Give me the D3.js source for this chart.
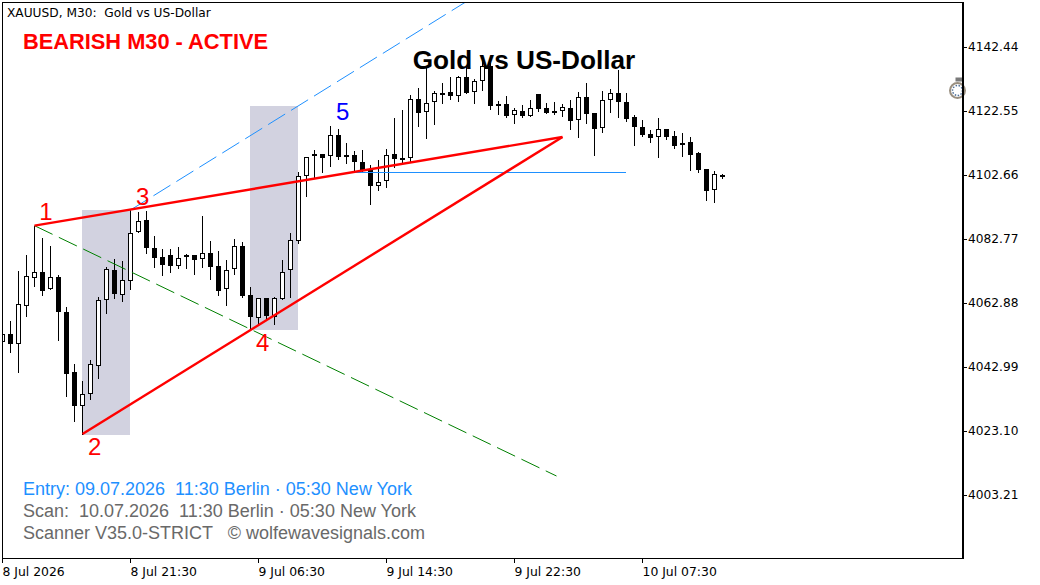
<!DOCTYPE html>
<html><head><meta charset="utf-8">
<script src="https://cdn.jsdelivr.net/npm/d3@7"></script>
<style>html,body{margin:0;padding:0;background:#fff;overflow:hidden}svg{display:block}</style>
</head><body><div id="c"></div>
<script>
const opens=[4050.86,4053.14,4050.24,4062.05,4070.75,4072.41,4067.34,4070.86,4059.98,4041.33,4031.02,4034.50,4043.40,4063.92,4073.13,4065.47,4069.82,4084.84,4088.57,4079.87,4077.07,4077.69,4074.48,4077.07,4077.69,4076.45,4078.32,4074.28,4067.13,4073.34,4080.49,4065.26,4058.32,4064.33,4058.63,4064.22,4073.03,4082.25,4102.45,4108.46,4109.08,4108.46,4114.98,4108.77,4108.77,4106.59,4104.11,4099.15,4100.69,4109.08,4107.53,4107.84,4126.18,4122.14,4125.25,4127.94,4128.36,4127.11,4133.02,4128.36,4131.98,4136.44,4124.73,4124.63,4121.21,4122.45,4121.10,4127.73,4123.38,4122.45,4122.45,4123.38,4119.65,4126.80,4121.83,4117.17,4125.87,4128.05,4125.25,4120.59,4117.48,4115.30,4114.37,4116.86,4114.68,4111.89,4112.82,4109.40,4104.43,4097.90,4102.56];
const highs=[4053.50,4057.29,4072.83,4077.80,4086.91,4083.08,4080.59,4071.58,4061.64,4043.92,4038.64,4045.17,4064.74,4073.96,4076.45,4075.93,4091.78,4091.06,4091.47,4083.60,4079.56,4079.56,4080.18,4078.00,4077.69,4089.92,4082.05,4078.94,4076.14,4082.67,4081.73,4067.75,4064.33,4064.33,4064.64,4076.14,4084.53,4103.49,4108.15,4110.32,4109.08,4117.88,4116.85,4112.50,4110.12,4110.32,4105.66,4107.21,4110.63,4120.37,4122.86,4127.42,4129.60,4135.81,4128.67,4131.15,4133.02,4133.33,4136.13,4132.40,4138.40,4137.37,4125.66,4127.22,4123.38,4124.32,4125.87,4127.73,4124.94,4125.46,4124.63,4125.87,4128.36,4131.15,4121.83,4128.87,4129.29,4135.30,4128.05,4121.21,4119.65,4116.75,4120.28,4116.86,4116.24,4115.61,4114.58,4109.71,4104.43,4103.80,4102.87];
const lows=[4050.50,4047.76,4041.54,4058.94,4068.27,4065.37,4067.34,4051.38,4034.08,4026.31,4022.17,4033.05,4039.68,4059.88,4064.54,4063.61,4067.34,4084.84,4078.52,4074.17,4071.69,4072.62,4073.86,4073.86,4072.00,4074.17,4070.44,4065.47,4062.36,4072.00,4064.64,4054.70,4056.04,4057.60,4056.35,4064.22,4064.85,4081.63,4096.23,4101.62,4103.69,4105.45,4107.73,4106.28,4103.69,4104.00,4093.75,4098.10,4099.03,4105.25,4106.80,4106.81,4117.89,4114.27,4118.41,4125.14,4126.39,4125.77,4128.25,4125.14,4129.08,4123.28,4121.73,4120.69,4118.83,4120.69,4120.90,4122.66,4121.83,4121.73,4121.00,4117.06,4114.58,4118.93,4108.98,4116.13,4122.35,4120.79,4119.55,4112.09,4114.89,4113.00,4108.36,4113.96,4111.16,4108.67,4104.32,4103.70,4095.00,4094.38,4101.73];
const closes=[4053.14,4050.24,4062.47,4071.17,4072.41,4066.61,4070.86,4060.19,4040.92,4031.02,4034.50,4043.82,4063.71,4073.34,4065.78,4069.92,4084.53,4088.26,4080.08,4076.97,4074.79,4074.48,4076.76,4077.69,4076.35,4078.32,4074.17,4066.71,4073.03,4080.49,4064.95,4058.43,4064.33,4058.94,4064.33,4072.41,4082.35,4102.45,4108.15,4109.08,4108.04,4114.98,4108.25,4108.36,4106.59,4104.11,4099.15,4100.59,4108.77,4107.73,4107.84,4126.18,4122.04,4124.94,4128.05,4128.15,4127.32,4133.02,4128.25,4131.77,4136.44,4124.21,4124.42,4121.00,4122.76,4121.10,4123.38,4123.28,4122.04,4122.14,4123.69,4119.55,4126.80,4121.73,4117.06,4125.87,4128.05,4125.46,4120.17,4117.48,4115.10,4114.27,4116.86,4114.58,4111.78,4112.51,4108.98,4104.32,4097.80,4102.87,4101.94];

const priceTicks=[4142.44,4122.55,4102.66,4082.77,4062.88,4042.99,4023.10,4003.21];
const timeTickBars=[0,16,32,48,64,80];
const timeTickLabels=["8 Jul 2026","8 Jul 21:30","9 Jul 06:30","9 Jul 14:30","9 Jul 22:30","10 Jul 07:30"];

// Wolfe wave pivots: [bar, price]
const p1=[4,4086.91],p2=[10,4022.17],p3=[16,4091.78],p4=[31,4054.70],apex=[70,4114.47];
const blueEnd=[70,4175.10];
const greenEnd=[69.25,4009.11];
const entryLine=[[44,4103.44],[78,4103.44]];
const boxes=[{b0:10,b1:16,hi:4091.78,lo:4022.17},{b0:31,b1:37,hi:4124.10,lo:4054.70}];
const waveLabels=[{t:"1",b:5.5,p:4088.67,c:"#f00"},{t:"2",b:11.6,p:4015.79,c:"#f00"},{t:"3",b:17.6,p:4093.34,c:"#f00"},{t:"4",b:32.6,p:4047.81,c:"#f00"},{t:"5",b:42.6,p:4119.60,c:"#00f"}];

const W=1040,H=585,L=2,T=2,R=962,B=558;
const x=d3.scaleLinear().domain([0,90]).range([2,722]);
const y=d3.scaleLinear().domain([4142.44,4003.21]).range([47,495]);
const px=v=>Math.round(x(v));const py=v=>Math.round(y(v));

const svg=d3.select("#c").append("svg").attr("width",W).attr("height",H);
svg.append("defs").append("clipPath").attr("id","plot").append("rect").attr("x",L).attr("y",T).attr("width",R-L).attr("height",B-T);
const g=svg.append("g").attr("clip-path","url(#plot)");

g.selectAll("rect.box").data(boxes).join("rect").attr("class","box")
 .attr("x",d=>px(d.b0)).attr("width",d=>px(d.b1)-px(d.b0))
 .attr("y",d=>py(d.hi)).attr("height",d=>py(d.lo)-py(d.hi)+1)
 .attr("fill","#d2d2e0").attr("shape-rendering","crispEdges");

const cg=g.append("g").attr("shape-rendering","crispEdges");
const idx=d3.range(opens.length);
cg.selectAll("line.w").data(idx).join("line").attr("class","w")
 .attr("x1",i=>px(i)+.5).attr("x2",i=>px(i)+.5)
 .attr("y1",i=>py(highs[i])).attr("y2",i=>py(lows[i])+1)
 .attr("stroke","#000").attr("stroke-width",1);
cg.selectAll("rect.b").data(idx).join("rect").attr("class","b")
 .attr("x",i=>px(i)-1.5).attr("width",4)
 .attr("y",i=>py(Math.max(opens[i],closes[i]))+.5)
 .attr("height",i=>Math.max(1,py(Math.min(opens[i],closes[i]))-py(Math.max(opens[i],closes[i]))-1))
 .attr("fill",i=>closes[i]>=opens[i]?"#fff":"#000").attr("stroke","#000").attr("stroke-width",1);

const seg=(a,b,c,w,dash)=>g.append("line").attr("x1",x(a[0])+.5).attr("y1",y(a[1])).attr("x2",x(b[0])+.5).attr("y2",y(b[1]))
 .attr("stroke",c).attr("stroke-width",w).attr("stroke-dasharray",dash||null);
seg(p3,blueEnd,"#1e90ff",1,"20 7");
seg(p1,greenEnd,"#008000",1,"20 7");
g.append("line").attr("x1",x(entryLine[0][0])).attr("x2",x(entryLine[1][0])).attr("y1",py(entryLine[0][1])+.5).attr("y2",py(entryLine[1][1])+.5)
 .attr("stroke","#1e90ff").attr("stroke-width",1).attr("shape-rendering","crispEdges");
seg(p1,apex,"#f00",2.4);
seg(p2,apex,"#f00",2.4);

// stopwatch glyph
const sw=svg.append("g").attr("transform","translate(957.5,90.5)");
sw.append("rect").attr("x",-2).attr("y",-13).attr("width",7).attr("height",4).attr("fill","#7a7a7a");
sw.append("circle").attr("r",7.5).attr("fill","#fff").attr("stroke","#9a8f80").attr("stroke-width",2);
sw.append("circle").attr("r",5).attr("fill","none").attr("stroke","#4f6f98").attr("stroke-width",1.5).attr("stroke-dasharray","1.5 1.5");

// axes
const ya=svg.append("g").attr("transform",`translate(${R+1},0)`).call(d3.axisRight(y).tickValues(priceTicks).tickSize(4).tickPadding(1).tickFormat(d3.format(".2f")));
const xa=svg.append("g").attr("transform",`translate(0,${B})`).call(d3.axisBottom(x).tickValues(timeTickBars).tickSize(5).tickFormat((d,i)=>timeTickLabels[i]));
ya.select(".domain").remove();xa.select(".domain").remove();
ya.selectAll("line").attr("stroke","#000").attr("shape-rendering","crispEdges");
xa.selectAll("line").attr("stroke","#000").attr("shape-rendering","crispEdges");
ya.selectAll("text").attr("font-family","'DejaVu Sans'").attr("font-size",12.2).attr("fill","#000");
xa.selectAll("text").attr("font-family","'DejaVu Sans'").attr("font-size",12.4).attr("fill","#000").attr("text-anchor","start").attr("dy",0).attr("y",18);

// frame
const fr=svg.append("g").attr("shape-rendering","crispEdges").attr("stroke","#000");
fr.append("line").attr("x1",L).attr("x2",R).attr("y1",T+.5).attr("y2",T+.5);
fr.append("line").attr("x1",L+.5).attr("x2",L+.5).attr("y1",T).attr("y2",B+1);
fr.append("line").attr("x1",L).attr("x2",R).attr("y1",B+.5).attr("y2",B+.5);
fr.append("line").attr("x1",R+.5).attr("x2",R+.5).attr("y1",T).attr("y2",B+1).attr("stroke-width",2);

const txt=(s,tx,ty,size,fill,weight,fam,anchor)=>svg.append("text").attr("x",tx).attr("y",ty).attr("font-family",fam||"'Liberation Sans'").attr("font-size",size).attr("font-weight",weight||"normal").attr("fill",fill).attr("text-anchor",anchor||"start").style("white-space","pre").text(s);
svg.selectAll("text.wave").data(waveLabels).join("text").attr("class","wave")
 .attr("x",d=>x(d.b)).attr("y",d=>y(d.p)).attr("text-anchor","middle").attr("font-family","'Liberation Sans'").attr("font-size",24).attr("fill",d=>d.c).text(d=>d.t);

txt("XAUUSD, M30:  Gold vs US-Dollar",7,17,12.2,"#000","normal","'DejaVu Sans'");
txt("BEARISH M30 - ACTIVE",23,49,21.8,"#f00","bold");
txt("Gold vs US-Dollar",524,69,26.2,"#000","bold",null,"middle");
txt("Entry: 09.07.2026  11:30 Berlin · 05:30 New York",23,495,18,"#1e90ff");
txt("Scan:  10.07.2026  11:30 Berlin · 05:30 New York",23,517,18,"#696969");
txt("Scanner V35.0-STRICT   © wolfewavesignals.com",23,539,18,"#696969");
</script></body></html>
